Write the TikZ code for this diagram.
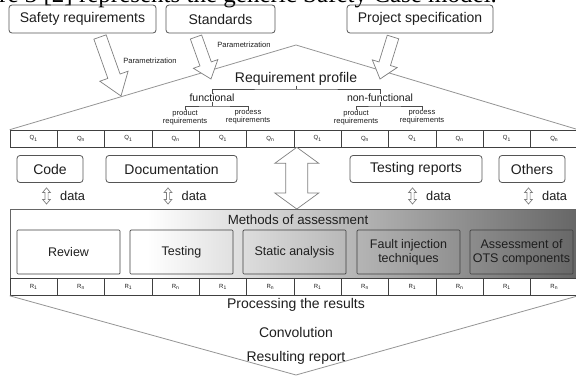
\documentclass[tikz,border=0pt]{standalone}
\usepackage{fontspec}
\setmainfont{Liberation Sans}
\newfontfamily\capfont{Liberation Serif}
\usetikzlibrary{calc}
\definecolor{boxline}{HTML}{555555}
\definecolor{arrline}{HTML}{808080}
\definecolor{roofline}{HTML}{959595}
\definecolor{txt}{HTML}{1E1E1E}
\pgfdeclarehorizontalshading{methshade}{100bp}{color(0bp)=(white); color(25bp)=(white); color(37bp)=(white); color(75bp)=(black!60); color(100bp)=(black!60)}
% single block arrow: #1 base, #2 tip, #3 shaft half width, #4 head half width, #5 head length
\newcommand\blockarr[5]{%
  \coordinate (baH) at ($(#2)!#5!(#1)$);
  \draw[barrow] ($(#1)!#3!90:(#2)$) -- ($(baH)!#3!90:(#2)$) -- ($(baH)!#4!90:(#2)$) -- (#2)
    -- ($(baH)!#4!-90:(#2)$) -- ($(baH)!#3!-90:(#2)$) -- ($(#1)!#3!-90:(#2)$) -- cycle;}
% double block arrow: #1 tip, #2 tip, #3 shaft half width, #4 head half width, #5 head length
\newcommand\dblarr[5]{%
  \coordinate (daA) at ($(#1)!#5!(#2)$);
  \coordinate (daB) at ($(#2)!#5!(#1)$);
  \draw[barrow] (#1) -- ($(daA)!#4!90:(#2)$) -- ($(daA)!#3!90:(#2)$) -- ($(daB)!#3!90:(#2)$)
    -- ($(daB)!#4!90:(#2)$) -- (#2) -- ($(daB)!#4!-90:(#2)$) -- ($(daB)!#3!-90:(#2)$)
    -- ($(daA)!#3!-90:(#2)$) -- ($(daA)!#4!-90:(#2)$) -- cycle;}
\begin{document}
\begin{tikzpicture}[x=1pt,y=-1pt,
  every node/.style={text=txt},
  topbox/.style={draw=boxline, line width=0.8pt, rounded corners=3pt, minimum height=27pt,
    inner sep=0pt, font=\fontsize{14}{16}\selectfont},
  roof/.style={draw=roofline, line width=0.8pt},
  brk/.style={draw=black!70, line width=0.6pt},
  barrow/.style={draw=arrline, line width=0.7pt, fill=white, line join=miter},
  lbl/.style={inner sep=0pt},
  cell/.style={draw=black!75, line width=0.6pt, minimum width=47.33pt, minimum height=17pt,
    inner sep=0pt, font=\fontsize{6}{7}\selectfont},
  methbox/.style={draw=black!75, line width=0.7pt, rounded corners=1pt, minimum width=103pt,
    minimum height=44pt, inner sep=0pt, align=center, font=\fontsize{12.5}{14}\selectfont},
]
\useasboundingbox (0,0) rectangle (576,378);
\fill[white] (0,0) rectangle (576,378);

% cut caption line at the top
\node[lbl, anchor=base west, font=\capfont\fontsize{25}{27}\selectfont, text=black] (cap) at (-1,2)
  {re 3 [2] represents the generic Safety Case model.};

% top boxes
\node[topbox, minimum width=147pt, minimum height=28pt] (safety) at (82.5,19) {Safety requirements};
\node[topbox, minimum width=109pt, minimum height=28pt] (std) at (220.5,19) {Standards};
\node[topbox, minimum width=146pt, minimum height=28pt] (proj) at (420,19) {Project specification};

% Q row
\foreach \i/\s in {1/1,2/n,3/1,4/n,5/1,6/n,7/1,8/n,9/1,10/n,11/1,12/n}
  \node[cell] (q\i) at ({10+47.33*(\i-0.5)},138.5) {Q\textsubscript{\s}};

% roof
\coordinate (apex) at (296,45);
\draw[roof] (q1.north west) -- (apex) -- (q12.north east);

% parametrization arrows
\coordinate (a1s) at (100,37); \coordinate (a1e) at (121,96);
\coordinate (a2s) at (196,37); \coordinate (a2e) at (211,79);
\coordinate (a3s) at (393,37); \coordinate (a3e) at (380,79);
\blockarr{a1s}{a1e}{6.5pt}{15pt}{21pt}
\blockarr{a2s}{a2e}{6pt}{13pt}{16pt}
\blockarr{a3s}{a3e}{6pt}{13pt}{16pt}
\node[lbl, font=\fontsize{7.6}{9}\selectfont] (par1) at (150,61) {Parametrization};
\node[lbl, font=\fontsize{7.6}{9}\selectfont] (par2) at (244,45) {Parametrization};

% requirement profile tree
\node[lbl, font=\fontsize{14}{16}\selectfont] (reqprof) at (296,79) {Requirement profile};
\node[lbl, font=\fontsize{10.5}{12}\selectfont] (fun) at (212,98) {functional};
\node[lbl, font=\fontsize{10.5}{12}\selectfont] (nonfun) at (380,98) {non-functional};
\draw[brk] (fun.north) |- (reqprof.south |- 0,89) -| (nonfun.north);
\draw[brk] (reqprof.south) -- (reqprof.south |- 0,89);
\node[lbl, align=center, font=\fontsize{7.6}{7.6}\selectfont] (pr1) at (185,117.5) {product\\requirements};
\node[lbl, align=center, font=\fontsize{7.6}{7.6}\selectfont] (pc1) at (248,117.5) {process\\requirements};
\node[lbl, align=center, font=\fontsize{7.6}{7.6}\selectfont] (pr2) at (356,117.5) {product\\requirements};
\node[lbl, align=center, font=\fontsize{7.6}{7.6}\selectfont] (pc2) at (422,117.5) {process\\requirements};
\draw[brk] (pr1.north) |- (fun.south |- 0,106) -| (pc1.north);
\draw[brk] (fun.south) -- (fun.south |- 0,106);
\draw[brk] (pr2.north) |- (nonfun.south |- 0,106) -| (pc2.north);
\draw[brk] (nonfun.south) -- (nonfun.south |- 0,106);

% source boxes
\node[topbox, minimum width=66pt] (code) at (50,169) {Code};
\node[topbox, minimum width=131pt] (doc) at (171.5,169) {Documentation};
\node[topbox, minimum width=132pt] (trep) at (416,169) {Testing reports};
\node[topbox, minimum width=66pt] (oth) at (532,169) {Others};

% methods box
\node[draw=black!60, line width=0.7pt, shade, shading=methshade, minimum width=568pt,
  minimum height=69pt, anchor=north west, inner sep=0pt] (meth) at (10,209) {};
\node[lbl, font=\fontsize{13.3}{15}\selectfont] (methtitle) at (298,219.5) {Methods of assessment};
\node[methbox] (m1) at (68.5,252) {Review};
\node[methbox] (m2) at (181.5,252) {Testing};
\node[methbox] (m3) at (294.5,252) {Static analysis};
\node[methbox] (m4) at (408.5,252) {Fault injection\\techniques};
\node[methbox] (m5) at (521.5,252) {Assessment of\\OTS components};

% data arrows
\foreach \b/\n in {code/d1,doc/d2,trep/d3,oth/d4}{
  \dblarr{$(\b.south)+(-3.5,5)$}{$(\b.south |- meth.north)+(-3.5,-5)$}{1.6pt}{3.8pt}{4.5pt}
  \node[lbl, anchor=west, font=\fontsize{12.8}{14}\selectfont] (\n) at ($(\b.south)+(10,13)$) {data};
}

% big double arrow
\dblarr{$(q6.south east)+(2.5,0)$}{$(q6.south east |- meth.north)+(2.5,0)$}{11pt}{22pt}{16pt}

% R row
\foreach \i/\s in {1/1,2/n,3/1,4/n,5/1,6/n,7/1,8/n,9/1,10/n,11/1,12/n}
  \node[cell] (r\i) at ({10+47.33*(\i-0.5)},287) {R\textsubscript{\s}};

% lower funnel
\coordinate (vbot) at (296,375);
\draw[roof] (r1.south west) -- (vbot) -- (r12.south east);
\node[lbl, font=\fontsize{14}{16}\selectfont] (proc) at (296,305) {Processing the results};
\node[lbl, font=\fontsize{14}{16}\selectfont] (conv) at (296,332) {Convolution};
\node[lbl, font=\fontsize{14}{16}\selectfont] (res) at (296,358) {Resulting report};
\end{tikzpicture}
\end{document}
